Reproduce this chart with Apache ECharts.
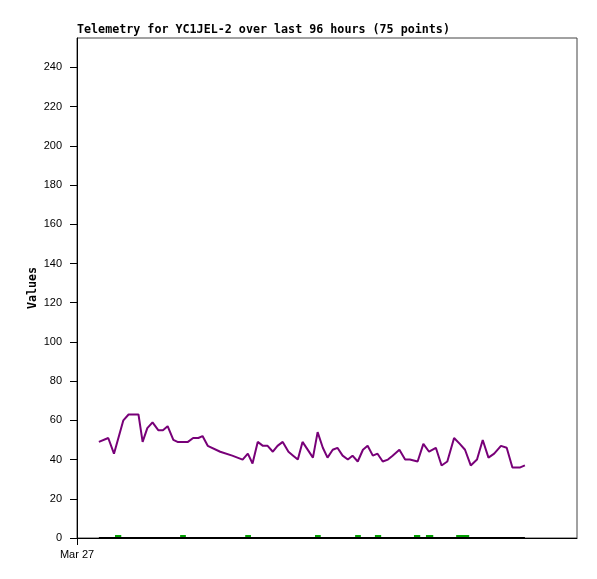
<!DOCTYPE html>
<html>
<head>
<meta charset="utf-8">
<script src="https://cdn.jsdelivr.net/npm/echarts@6/dist/echarts.min.js"></script>
<style>
  html, body { margin: 0; padding: 0; background: #fff; }
  #chart { width: 597px; height: 579px; }
</style>
</head>
<body>
<div id="chart"></div>
<script>
// hours since Mar 27 00:00
const hours = [4.2, 6.0, 7.1, 8.9, 9.9, 10.8, 11.8, 12.6, 13.5, 14.5,
  15.6, 16.5, 17.4, 18.5, 19.3, 20.3, 21.3, 22.3, 23.3, 24.1,
  25.1, 27.5, 29.8, 31.8, 32.8, 33.7, 34.7, 35.7, 36.6, 37.6,
  38.5, 39.5, 40.6, 41.5, 42.4, 43.3, 45.3, 46.2, 47.2, 48.1,
  49.1, 50.0, 51.0, 52.0, 52.9, 53.9, 54.9, 55.8, 56.8, 57.7,
  58.7, 59.7, 60.6, 61.9, 63.0, 63.9, 65.4, 66.5, 67.6, 68.9,
  70.0, 71.1, 72.4, 73.5, 74.5, 75.6, 76.8, 77.9, 79.0, 80.1,
  81.4, 82.5, 83.6, 85.1, 86.0]
const purpleValues = [49, 51, 43, 60, 63, 63, 63, 49, 56, 59,
  55, 55, 57, 50, 49, 49, 49, 51, 51, 52,
  47, 44, 42, 40, 43, 38, 49, 47, 47, 44,
  47, 49, 44, 42, 40, 49, 41, 54, 46, 41,
  45, 46, 42, 40, 42, 39, 45, 47, 42, 43,
  39, 40, 42, 45, 40, 40, 39, 48, 44, 46,
  37, 39, 51, 48, 45, 37, 40, 50, 41, 43,
  47, 46, 36, 36, 37]
const blackValues = hours.map(() => 0)
// short green runs just above zero
const greenRuns = [[7.3, 8.5], [19.8, 20.9], [32.3, 33.4], [45.7, 46.8], [53.4, 54.5],
  [57.2, 58.4], [64.7, 65.9], [67.0, 68.4], [72.8, 75.3]]
const greenLevel = 1
const yTicks = [0, 20, 40, 60, 80, 100, 120, 140, 160, 180, 200, 220, 240]
const xLabel = 'Mar 27'

let greenData = []
greenRuns.forEach(r => {
  greenData.push([r[0], greenLevel], [r[1], greenLevel], [r[1], '-'])
})

const chart = echarts.init(document.getElementById('chart'))
chart.setOption({
  backgroundColor: '#fff',
  animation: false,
  title: {
    text: 'Telemetry for YC1JEL-2 over last 96 hours (75 points)',
    left: 77,
    top: 24,
    padding: 0,
    textStyle: {
      fontFamily: 'DejaVu Sans Mono',
      fontWeight: 'bold',
      fontSize: 11.7,
      color: '#000'
    }
  },
  grid: {
    left: 77,
    right: 20,
    top: 38,
    bottom: 41,
    show: true,
    borderColor: '#444',
    borderWidth: 1,
    backgroundColor: '#fff'
  },
  xAxis: {
    type: 'value',
    min: 0,
    max: 96,
    splitLine: { show: false },
    axisLine: { onZero: false, lineStyle: { color: '#000', width: 1 } },
    axisTick: { show: true, length: 7, customValues: [0], lineStyle: { color: '#000' } },
    axisLabel: {
      customValues: [0],
      formatter: () => xLabel,
      fontFamily: 'Liberation Sans',
      fontSize: 11,
      color: '#000',
      margin: 11
    }
  },
  yAxis: {
    type: 'value',
    min: 0,
    max: 255,
    name: 'Values',
    nameLocation: 'middle',
    nameRotate: 90,
    nameGap: 38,
    nameMoveOverlap: false,
    nameTextStyle: {
      fontFamily: 'DejaVu Sans Mono',
      fontWeight: 'bold',
      fontSize: 11.7,
      color: '#000'
    },
    splitLine: { show: false },
    axisLine: { show: true, lineStyle: { color: '#000', width: 1 } },
    axisTick: { show: true, length: 7, customValues: yTicks, lineStyle: { color: '#000' } },
    axisLabel: {
      customValues: yTicks,
      fontFamily: 'Liberation Sans',
      fontSize: 11,
      color: '#000',
      margin: 15
    }
  },
  series: [
    {
      name: 'green',
      type: 'line',
      data: greenData,
      showSymbol: false,
      connectNulls: false,
      lineStyle: { color: '#00a000', width: 2 },
      z: 1
    },
    {
      name: 'black',
      type: 'line',
      data: hours.map((h, i) => [h, blackValues[i]]),
      showSymbol: false,
      lineStyle: { color: '#000', width: 2 },
      z: 2
    },
    {
      name: 'purple',
      type: 'line',
      data: hours.map((h, i) => [h, purpleValues[i]]),
      showSymbol: false,
      lineStyle: { color: '#780078', width: 2 },
      z: 3
    }
  ]
})
</script>
</body>
</html>
